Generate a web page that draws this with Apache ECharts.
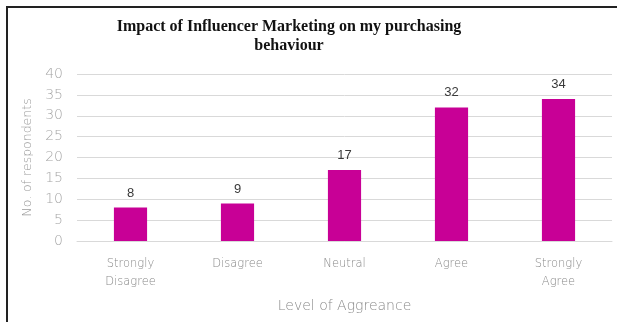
<!DOCTYPE html>
<html>
<head>
<meta charset="utf-8">
<script src="https://cdn.jsdelivr.net/npm/echarts@6/dist/echarts.min.js"></script>
<style>
  html, body { margin: 0; padding: 0; background: #fff; }
  #frame { position: absolute; left: 6px; top: 6px; width: 611px; height: 316px;
           border-left: 2px solid #222; border-top: 2px solid #222; box-sizing: border-box; }
  #chart { position: absolute; left: 0; top: 0; width: 617px; height: 322px; }
</style>
</head>
<body>
<div id="frame"></div>
<div id="chart"></div>
<script>
// Survey responses by level of agreement
const categories = ['Strongly\nDisagree', 'Disagree', 'Neutral', 'Agree', 'Strongly\nAgree'];
const responses = [8, 9, 17, 32, 34];
const yTicks = [0, 5, 10, 15, 20, 25, 30, 35, 40];

const thinFont = 'DejaVu Sans';

const chart = echarts.init(document.getElementById('chart'));
chart.setOption({
  backgroundColor: 'transparent',
  animation: false,
  title: {
    text: 'Impact of Influencer Marketing on my purchasing\nbehaviour',
    left: 284,
    top: 12,
    textAlign: 'center',
    textStyle: {
      fontFamily: 'Liberation Serif',
      fontWeight: 'bold',
      fontSize: 16,
      lineHeight: 19,
      color: '#111'
    }
  },
  grid: { left: 77, right: 5, top: 74, bottom: 81 },
  xAxis: {
    type: 'category',
    data: categories,
    name: 'Level of Aggreance',
    nameLocation: 'middle',
    nameGap: 58,
    nameTextStyle: { fontFamily: thinFont, fontWeight: 200, fontSize: 14, color: '#8a8a8a' },
    axisLine: { show: true, lineStyle: { color: '#d9d9d9', width: 1 } },
    axisTick: { show: false },
    axisLabel: {
      margin: 14,
      fontFamily: thinFont, fontWeight: 200, fontSize: 11.5, lineHeight: 18,
      color: '#8a8a8a'
    }
  },
  yAxis: {
    type: 'value',
    min: yTicks[0],
    max: yTicks[yTicks.length - 1],
    interval: 5,
    name: 'No. of respondents',
    nameLocation: 'middle',
    nameGap: 42,
    nameTextStyle: { fontFamily: thinFont, fontWeight: 200, fontSize: 12.5, color: '#9a9a9a' },
    axisLine: { show: false },
    axisTick: { show: false },
    axisLabel: { margin: 14, fontFamily: thinFont, fontWeight: 200, fontSize: 14, color: '#a6a6a6' },
    splitLine: { lineStyle: { color: '#d9d9d9', width: 1 } }
  },
  series: [{
    type: 'bar',
    data: responses,
    barWidth: '31%',
    itemStyle: { color: '#c80096' },
    label: {
      show: true,
      position: 'top',
      distance: 8,
      fontFamily: 'Liberation Sans',
      fontSize: 13,
      color: '#3a3a3a'
    }
  }]
});
</script>
</body>
</html>
